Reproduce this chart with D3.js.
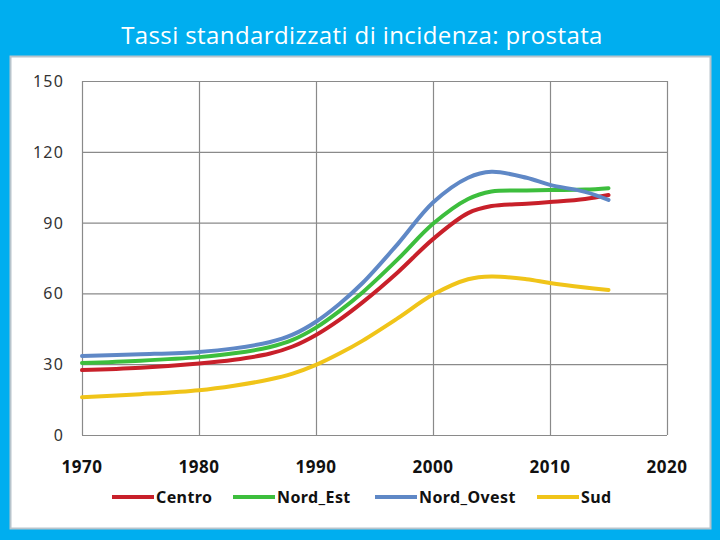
<!doctype html>
<html>
  <head>
    <meta charset="utf-8">
    <title>Tassi standardizzati di incidenza: prostata</title>
    <script src="https://cdnjs.cloudflare.com/ajax/libs/d3/7.8.5/d3.min.js"></script>
    <style>
      body { margin: 0; background: #00AEEF; }
      svg { display: block; }
    </style>
  </head>
  <body>
    <div id="chart"></div>
    <script>
      // data
      const years = [1970, 1975, 1980, 1983, 1986, 1988, 1990, 1992, 1994, 1997, 2000, 2003, 2005, 2008, 2010, 2013, 2015];
      const centro    = [27.5, 28.5, 30.3, 31.9, 34.4, 37.5, 42.4, 48.8, 56.3, 69, 83, 94, 97, 98, 98.7, 100, 101.7];
      const nordEst   = [30.5, 31.5, 33, 34.6, 37.2, 40.3, 45.5, 52.5, 60.5, 74.5, 89.5, 100, 103.2, 103.6, 103.8, 104, 104.6];
      const nordOvest = [33.5, 34.2, 35.2, 36.7, 39.3, 42.5, 48, 55.5, 64.5, 81, 98.5, 109, 111.5, 109, 106, 103, 99.6];
      const sud       = [16, 17.3, 19, 20.9, 23.5, 26, 29.7, 34.5, 40, 49.5, 59.5, 66, 67.2, 66, 64.4, 62.5, 61.4];
      const seriesNames = ['Centro', 'Nord_Est', 'Nord_Ovest', 'Sud'];
      const xTicks = [1970, 1980, 1990, 2000, 2010, 2020];
      const yTicks = [0, 30, 60, 90, 120, 150];

      const colors = ['#C8202A', '#3DBE3D', '#5F88C6', '#F0C419'];
      const series = [centro, nordEst, nordOvest, sud];

      const width = 720, height = 540;
      const svg = d3.select('#chart').append('svg')
        .attr('width', width)
        .attr('height', height);

      svg.append('rect')
        .attr('width', width).attr('height', height)
        .attr('fill', '#00AEEF');

      svg.append('text')
        .attr('x', 362).attr('y', 44)
        .attr('text-anchor', 'middle')
        .attr('fill', '#fff')
        .style('font-family', 'Open Sans, sans-serif')
        .style('font-size', '24px')
        .style('letter-spacing', '0.4px')
        .text('Tassi standardizzati di incidenza: prostata');

      // white panel
      svg.append('rect')
        .attr('x', 10.5).attr('y', 56.5)
        .attr('width', 700).attr('height', 472)
        .attr('fill', '#fff')
        .attr('stroke', '#b8c4cc')
        .attr('stroke-width', 2);

      const x = d3.scaleLinear().domain([1970, 2020]).range([82, 667]);
      const y = d3.scaleLinear().domain([0, 150]).range([435, 81]);

      const grid = svg.append('g');
      grid.selectAll('line.v')
        .data(xTicks)
        .join('line')
        .attr('class', 'v')
        .attr('x1', d => x(d) + 0.5).attr('x2', d => x(d) + 0.5)
        .attr('y1', y(150)).attr('y2', y(0))
        .attr('stroke', '#8a8a8a').attr('stroke-width', 1.2);
      grid.selectAll('line.h')
        .data(yTicks)
        .join('line')
        .attr('class', 'h')
        .attr('x1', x(1970)).attr('x2', x(2020))
        .attr('y1', d => y(d) + 0.5).attr('y2', d => y(d) + 0.5)
        .attr('stroke', '#8a8a8a').attr('stroke-width', 1.2);

      // axes labels
      svg.append('g').selectAll('text')
        .data(yTicks)
        .join('text')
        .attr('x', 64)
        .attr('y', d => y(d) + 6)
        .attr('text-anchor', 'end')
        .attr('fill', '#333')
        .style('font-family', 'Noto Sans, sans-serif')
        .style('font-size', '16px')
        .style('letter-spacing', '1.2px')
        .text(d => d);

      svg.append('g').selectAll('text')
        .data(xTicks)
        .join('text')
        .attr('x', d => x(d))
        .attr('y', 473)
        .attr('text-anchor', 'middle')
        .attr('fill', '#111')
        .style('font-family', 'Noto Sans, sans-serif')
        .style('font-weight', 'bold')
        .style('font-size', '17px')
        .style('letter-spacing', '0.5px')
        .text(d => d);

      const line = d3.line()
        .x((d, i) => x(years[i]))
        .y(d => y(d))
        .curve(d3.curveCatmullRom.alpha(0.5));

      svg.append('g').selectAll('path')
        .data(series)
        .join('path')
        .attr('d', d => line(d))
        .attr('fill', 'none')
        .attr('stroke', (d, i) => colors[i])
        .attr('stroke-width', 4)
        .attr('stroke-linecap', 'round');

      // legend
      const legendX = [112, 233, 375, 537];
      const lg = svg.append('g').selectAll('g')
        .data(seriesNames)
        .join('g')
        .attr('transform', (d, i) => `translate(${legendX[i]},497)`);
      lg.append('line')
        .attr('x1', 0).attr('x2', 42)
        .attr('stroke', (d, i) => colors[i])
        .attr('stroke-width', 4);
      lg.append('text')
        .attr('x', 44).attr('y', 6)
        .attr('fill', '#111')
        .style('font-family', 'Noto Sans, sans-serif')
        .style('font-weight', 'bold')
        .style('font-size', '16px')
        .style('letter-spacing', '0.4px')
        .text(d => d);
    </script>
  </body>
</html>
